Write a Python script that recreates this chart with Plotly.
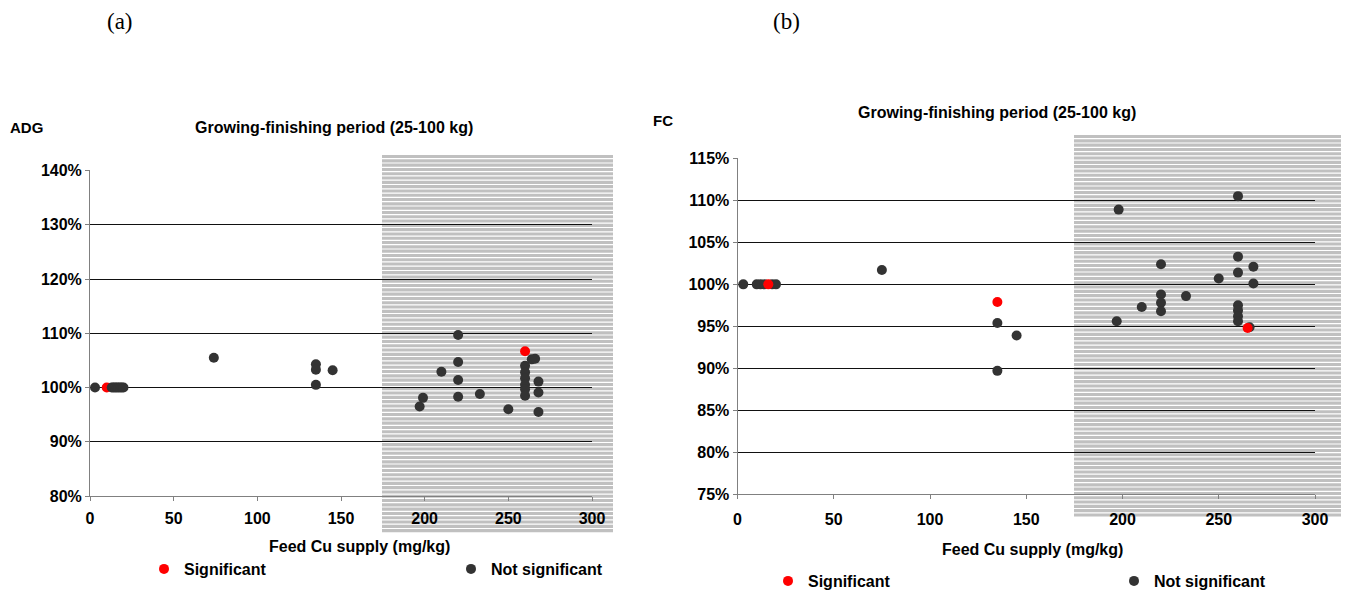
import plotly.graph_objects as go

# ---------------- data ----------------
# Panel (a): ADG relative to control (%), vs feed Cu supply (mg/kg)
sig_a_x = [10, 260]
sig_a_y = [100, 106.7]
non_a_x = [3, 13, 14, 15, 16, 17, 18, 19, 20, 74, 135, 135, 135, 145,
           197, 199, 210, 220, 220, 220, 220, 233, 250,
           260, 260, 260, 260, 260, 260, 264, 266, 268, 268, 268]
non_a_y = [100, 100, 100, 100, 100, 100, 100, 100, 100, 105.5, 104.3, 103.3, 100.5, 103.2,
           96.5, 98.1, 102.9, 109.7, 104.7, 101.4, 98.3, 98.8, 96.0,
           104.0, 102.8, 101.7, 100.5, 99.7, 98.5, 105.2, 105.3, 101.1, 99.1, 95.5]

# Panel (b): FC relative to control (%), vs feed Cu supply (mg/kg)
sig_b_x = [16, 135, 265]
sig_b_y = [100, 97.9, 94.8]
non_b_x = [3, 10, 12, 14, 18, 20, 75, 135, 135, 145,
           197, 198, 210, 220, 220, 220, 220, 233, 250,
           260, 260, 260, 260, 260, 260, 260, 266, 268, 268]
non_b_y = [100, 100, 100, 100, 100, 100, 101.7, 95.4, 89.7, 93.9,
           95.6, 108.9, 97.3, 102.4, 98.8, 97.8, 96.8, 98.6, 100.7,
           110.5, 103.3, 101.4, 97.5, 96.9, 96.2, 95.6, 94.9, 102.1, 100.1]

x_ticks = [0, 50, 100, 150, 200, 250, 300]
y_ticks_a = [80, 90, 100, 110, 120, 130, 140]
y_ticks_b = [75, 80, 85, 90, 95, 100, 105, 110, 115]

legend_names = ["Significant", "Not significant"]
title_text = "Growing-finishing period (25-100 kg)"
x_title = "Feed Cu supply (mg/kg)"

# ---------------- styling ----------------
W, H = 1346, 590
RED = "#ff0000"
DARK = "#333333"
FONT = "Liberation Sans"


def px(x):
    return x / W


def py(y):
    return 1 - y / H


fig = go.Figure()

# panel (a): red drawn first (dark covers it), panel (b): red on top
fig.add_trace(go.Scatter(x=sig_a_x, y=sig_a_y, mode="markers", name=legend_names[0],
                         marker=dict(color=RED, size=10), xaxis="x", yaxis="y",
                         legend="legend", showlegend=True, cliponaxis=False))
fig.add_trace(go.Scatter(x=non_a_x, y=non_a_y, mode="markers", name=legend_names[1],
                         marker=dict(color=DARK, size=10), xaxis="x", yaxis="y",
                         legend="legend2", showlegend=True, cliponaxis=False))
fig.add_trace(go.Scatter(x=non_b_x, y=non_b_y, mode="markers", name=legend_names[1],
                         marker=dict(color=DARK, size=10), xaxis="x2", yaxis="y2",
                         legend="legend4", showlegend=True, cliponaxis=False))
fig.add_trace(go.Scatter(x=sig_b_x, y=sig_b_y, mode="markers", name=legend_names[0],
                         marker=dict(color=RED, size=10), xaxis="x2", yaxis="y2",
                         legend="legend3", showlegend=True, cliponaxis=False))

# ---------------- striped shaded zones (decoration) ----------------
shapes = []


def stripes(x0, x1, y0, y1, period=4.3, frac=0.72):
    n = int((y1 - y0) / period)
    for i in range(n):
        top = y0 + i * period
        shapes.append(dict(type="rect", xref="paper", yref="paper",
                           x0=px(x0), x1=px(x1), y0=py(top + period * frac), y1=py(top),
                           fillcolor="#c0c0c0", line=dict(width=0), layer="below"))


stripes(382, 613, 155, 537)
stripes(1074, 1341, 135, 518)

tick_font = dict(family=FONT, size=16, color="black", weight="bold")
title_font = dict(family=FONT, size=16, color="black", weight="bold")

axis_common = dict(
    showline=True, linecolor="#808080", linewidth=1,
    ticks="outside", ticklen=4, tickcolor="#808080", tickwidth=1,
    tickfont=tick_font, zeroline=False, automargin=False,
)

fig.update_layout(
    width=W, height=H,
    margin=dict(l=0, r=0, t=0, b=0, autoexpand=False),
    paper_bgcolor="white",
    plot_bgcolor="rgba(0,0,0,0)",
    template="none",
    shapes=shapes,
    xaxis=dict(domain=[px(90), px(592)], range=[0, 300], tickmode="array", tickvals=x_ticks,
               ticktext=[str(v) for v in x_ticks], ticklabelstandoff=4,
               anchor="y", showgrid=False, **axis_common),
    yaxis=dict(domain=[py(496), py(170)], range=[80, 140.12], tickmode="array", tickvals=y_ticks_a,
               ticktext=[f"{v}%" for v in y_ticks_a], anchor="x",
               showgrid=True, gridcolor="#111111", gridwidth=1,
               **axis_common),
    xaxis2=dict(domain=[px(737.5), px(1315)], range=[0, 300], tickmode="array", tickvals=x_ticks,
                ticktext=[str(v) for v in x_ticks], ticklabelstandoff=6,
                anchor="y2", showgrid=False, **axis_common),
    yaxis2=dict(domain=[py(494.3), py(157.7)], range=[75, 115.08], tickmode="array", tickvals=y_ticks_b,
                ticktext=[f"{v}%" for v in y_ticks_b], anchor="x2",
                showgrid=True, gridcolor="#111111", gridwidth=1,
                **axis_common),
)

leg_font = dict(family=FONT, size=16, color="black", weight="bold")
legend_pos = {"legend": (165, 569), "legend2": (472, 569),
              "legend3": (789, 581), "legend4": (1135, 581)}
for key, (dx, dy) in legend_pos.items():
    fig.update_layout({key: dict(x=px(dx - 21), y=py(dy), xanchor="left", yanchor="middle",
                                 xref="container", yref="container",
                                 font=leg_font, bgcolor="rgba(0,0,0,0)",
                                 borderwidth=0, tracegroupgap=0)})

ann_font = dict(family=FONT, size=16, color="black", weight="bold")
small_font = dict(family=FONT, size=15, color="black", weight="bold")
annotations = [
    dict(text="(a)", x=px(120), y=py(22), font=dict(family="Liberation Serif", size=23, color="black")),
    dict(text="(b)", x=px(786), y=py(22), font=dict(family="Liberation Serif", size=23, color="black")),
    dict(text="ADG", x=px(8), y=py(127), xanchor="left", font=small_font),
    dict(text=title_text, x=px(334), y=py(127), font=ann_font),
    dict(text="FC", x=px(651), y=py(120), xanchor="left", font=small_font),
    dict(text=title_text, x=px(997), y=py(113), font=ann_font),
    dict(text=x_title, x=px(359), y=py(546), font=title_font),
    dict(text=x_title, x=px(1032), y=py(549), font=title_font),
]
for a in annotations:
    a.update(xref="paper", yref="paper", showarrow=False)
    a.setdefault("xanchor", "center")
    a.setdefault("yanchor", "middle")
fig.update_layout(annotations=annotations)

fig.write_html("out.html")
